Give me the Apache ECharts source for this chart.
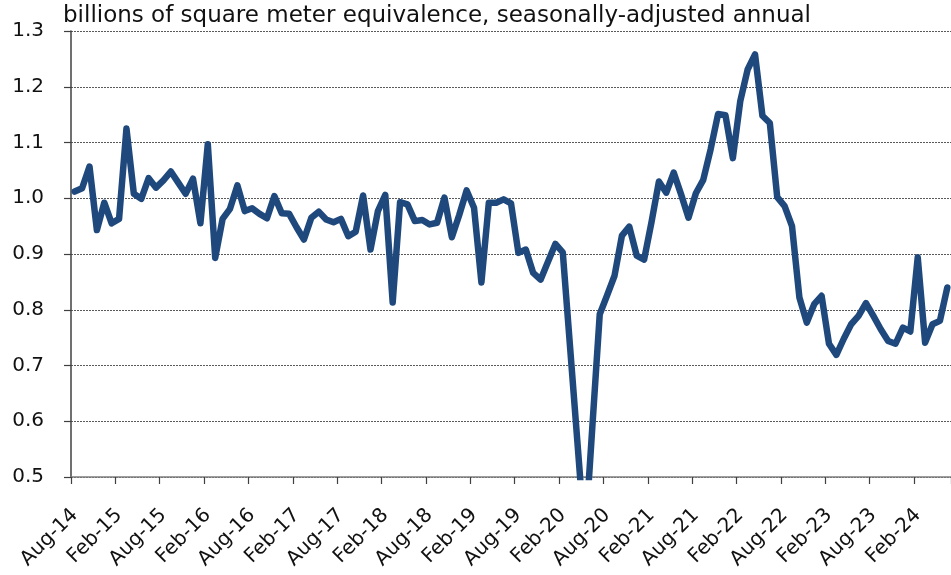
<!DOCTYPE html>
<html>
<head>
<meta charset="utf-8">
<script src="https://cdn.jsdelivr.net/npm/echarts@6/dist/echarts.min.js"></script>
<style>
html,body{margin:0;padding:0;background:#fff;}
#chart{width:951px;height:575px;}
</style>
</head>
<body>
<div id="chart"></div>
<script>
const months = ["Jan","Feb","Mar","Apr","May","Jun","Jul","Aug","Sep","Oct","Nov","Dec"];
// categories Aug-14 .. Jun-24
const categories = [];
(function(){
  let y = 2014, m = 7;
  for (let k = 0; k < 119; k++) {
    categories.push(months[m] + "-" + String(y).slice(2));
    m++; if (m === 12) { m = 0; y++; }
  }
})();

const values = [
  1.012, 1.018, 1.057, 0.943, 0.992, 0.955, 0.963, 1.125, 1.008, 0.999, 1.036, 1.019,
  1.032, 1.048, 1.028, 1.008, 1.035, 0.955, 1.097, 0.893, 0.963, 0.981, 1.023, 0.977,
  0.982, 0.972, 0.964, 1.004, 0.973, 0.972, 0.948, 0.926, 0.965, 0.976, 0.962, 0.957,
  0.963, 0.932, 0.940, 1.005, 0.908, 0.977, 1.006, 0.813, 0.993, 0.989, 0.959, 0.961,
  0.953, 0.956, 1.001, 0.930, 0.970, 1.014, 0.983, 0.849, 0.992, 0.992, 0.998, 0.991,
  0.902, 0.908, 0.866, 0.854, 0.886, 0.918, 0.903, 0.731, 0.559, 0.387, 0.590, 0.792,
  0.826, 0.861, 0.933, 0.949, 0.897, 0.890, 0.957, 1.030, 1.010, 1.046, 1.007, 0.965,
  1.009, 1.033, 1.088, 1.151, 1.149, 1.072, 1.174, 1.231, 1.258, 1.148, 1.135, 1.002,
  0.986, 0.950, 0.822, 0.777, 0.810, 0.825, 0.739, 0.719, 0.748, 0.774, 0.789, 0.812,
  0.789, 0.765, 0.744, 0.739, 0.768, 0.761, 0.894, 0.741, 0.774, 0.780, 0.840
];

const yMin = 0.5, yMax = 1.3, yStep = 0.1;
const titleText = "billions of square meter equivalence, seasonally-adjusted annual";
const FONT = 'DejaVu Sans, Verdana, sans-serif';

const chart = echarts.init(document.getElementById('chart'), null, {renderer: 'canvas'});
chart.setOption({
  animation: false,
  backgroundColor: '#ffffff',
  title: {
    text: titleText,
    left: 63, top: 5, padding: 0,
    textStyle: {fontFamily: FONT, fontSize: 23, fontWeight: 'normal', color: '#111111'}
  },
  grid: {left: 71, top: 31, width: 883, height: 446, containLabel: false},
  xAxis: {
    type: 'category',
    data: categories,
    boundaryGap: true,
    axisLine: {show: true, lineStyle: {color: '#7f7f7f', width: 1.5}},
    axisTick: {show: true, interval: 5, length: 7, lineStyle: {color: '#404040', width: 1.2}},
    axisLabel: {
      interval: 5, rotate: 45, margin: 35,
      fontFamily: FONT, fontSize: 20, color: '#111111'
    },
    splitLine: {show: false}
  },
  yAxis: {
    type: 'value',
    min: yMin, max: yMax, interval: yStep,
    axisLine: {show: true, lineStyle: {color: '#404040', width: 1.5}},
    axisTick: {show: true, inside: false, length: 7, lineStyle: {color: '#404040', width: 1.2}},
    axisLabel: {
      margin: 27,
      formatter: v => v.toFixed(1),
      fontFamily: FONT, fontSize: 20, color: '#111111'
    },
    splitLine: {show: true, lineStyle: {color: '#5a5a5a', type: [2, 1], width: 1.2}}
  },
  series: [{
    type: 'line',
    data: values,
    showSymbol: false,
    symbol: 'none',
    clip: true,
    lineStyle: {color: '#1F497D', width: 6.5, join: 'round', cap: 'round'},
    itemStyle: {color: '#1F497D'}
  }]
});
</script>
</body>
</html>
